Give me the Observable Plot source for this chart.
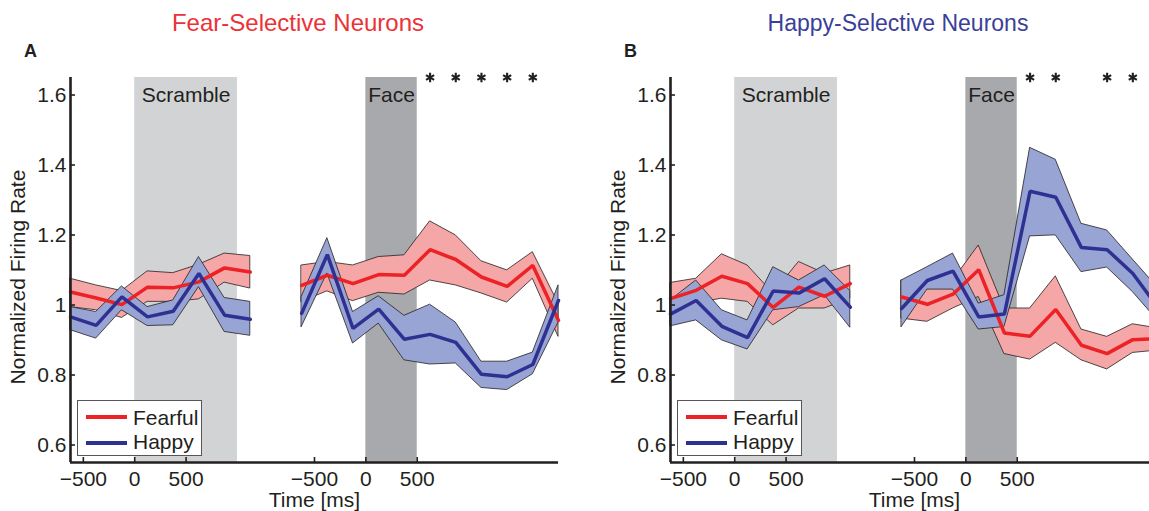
<!DOCTYPE html>
<html>
<head>
<meta charset="utf-8">
<script src="https://cdn.jsdelivr.net/npm/d3@7"></script>
<script src="https://cdn.jsdelivr.net/npm/@observablehq/plot@0.6"></script>
<style>
  html, body { margin: 0; padding: 0; background: #fff; overflow: hidden; }
  #fig { position: relative; width: 1149px; height: 511px; overflow: hidden;
         font-family: "Liberation Sans", Arial, Helvetica, sans-serif; color: #231f20; }
  .panel { position: absolute; top: 0; width: 600px; height: 511px; }
  .title { position: absolute; top: 11px; line-height: 24px; white-space: nowrap; transform: translateX(-50%); }
  .letter { position: absolute; top: 42px; font-size: 18px; line-height: 18px; font-weight: bold; }
  .legend { position: absolute; top: 400px; width: 123px; height: 54px; background: #fff; border: 1px solid #555; }
  .legend .sw { position: absolute; left: 8px; width: 41px; height: 3.5px; }
  .legend .lab { position: absolute; left: 55px; font-size: 21px; line-height: 21px; white-space: nowrap; }
</style>
</head>
<body>
<div id="fig"></div>
<script>
// Bin centres (ms) of the two recording epochs
const scrambleTimes = [-625, -375, -125, 125, 375, 625, 875, 1125];
const faceTimes = [-625, -375, -125, 125, 375, 625, 875, 1125, 1375, 1625, 1875];
// The face epoch is drawn to the right of the scramble epoch on a shared axis
const faceOffset = 2250;

// Stimulus periods (ms, relative to each epoch's onset)
const epochNames = ["Scramble", "Face"];
const epochStart = [0, 0];
const epochEnd = [1000, 500];
const epochShift = [0, faceOffset];
const epochFill = ["#d1d3d4", "#a7a9ac"];

// Axis ticks
const xTickValues = [-500, 0, 500];
const yTickValues = [0.6, 0.8, 1, 1.2, 1.4, 1.6];
const yDomain = [0.55, 1.65];

// --- A: fear-selective neurons ---
const aScrFearMean = [1.037, 1.020, 1.001, 1.051, 1.049, 1.066, 1.106, 1.094];
const aScrFearHi   = [1.075, 1.056, 1.040, 1.096, 1.091, 1.115, 1.147, 1.140];
const aScrFearLo   = [0.994, 0.985, 0.963, 1.009, 1.009, 1.016, 1.064, 1.047];
const aScrHapMean  = [0.966, 0.942, 1.023, 0.966, 0.982, 1.090, 0.971, 0.959];
const aScrHapHi    = [0.994, 0.980, 1.053, 0.994, 1.013, 1.137, 1.020, 1.009];
const aScrHapLo    = [0.928, 0.904, 0.985, 0.940, 0.942, 1.051, 0.923, 0.912];
const aFaceFearMean = [1.056, 1.085, 1.061, 1.087, 1.085, 1.158, 1.130, 1.080, 1.053, 1.113, 0.956];
const aFaceFearHi   = [1.113, 1.123, 1.113, 1.137, 1.142, 1.239, 1.199, 1.125, 1.099, 1.151, 1.004];
const aFaceFearLo   = [1.009, 1.039, 1.011, 1.035, 1.030, 1.070, 1.056, 1.033, 1.007, 1.075, 0.909];
const aFaceHapMean  = [0.976, 1.144, 0.933, 0.988, 0.902, 0.916, 0.893, 0.802, 0.795, 0.830, 1.013];
const aFaceHapHi    = [1.023, 1.191, 0.980, 1.025, 0.969, 1.001, 0.950, 0.838, 0.838, 0.864, 1.056];
const aFaceHapLo    = [0.937, 1.090, 0.890, 0.947, 0.842, 0.830, 0.833, 0.763, 0.757, 0.802, 0.950];
const aStars = [625, 875, 1125, 1375, 1625];

// --- B: happy-selective neurons ---
const bScrFearMean = [1.018, 1.042, 1.082, 1.061, 0.993, 1.051, 1.025, 1.061];
const bScrFearHi   = [1.063, 1.075, 1.145, 1.113, 1.033, 1.123, 1.090, 1.113];
const bScrFearLo   = [0.975, 1.005, 1.018, 1.009, 0.942, 0.990, 0.990, 1.018];
const bScrHapMean  = [0.974, 1.013, 0.939, 0.907, 1.040, 1.034, 1.075, 0.994];
const bScrHapHi    = [1.013, 1.070, 0.985, 0.956, 1.108, 1.070, 1.113, 1.040];
const bScrHapLo    = [0.939, 0.956, 0.899, 0.873, 0.985, 0.994, 1.028, 0.935];
const bFaceFearMean = [1.023, 1.002, 1.031, 1.101, 0.920, 0.911, 0.987, 0.885, 0.861, 0.901, 0.904];
const bFaceFearHi   = [1.070, 1.047, 1.070, 1.170, 0.990, 0.990, 1.082, 0.930, 0.909, 0.945, 0.933];
const bFaceFearLo   = [0.961, 0.952, 0.990, 1.023, 0.860, 0.844, 0.892, 0.842, 0.816, 0.863, 0.870];
const bFaceHapMean  = [0.990, 1.070, 1.097, 0.966, 0.974, 1.325, 1.308, 1.164, 1.158, 1.090, 0.991];
const bFaceHapHi    = [1.070, 1.108, 1.147, 1.004, 1.028, 1.449, 1.415, 1.232, 1.213, 1.130, 1.047];
const bFaceHapLo    = [0.937, 1.044, 1.044, 0.930, 0.937, 1.196, 1.199, 1.094, 1.107, 1.037, 0.953];
const bStars = [625, 875, 1375, 1625];

const ink = "#231f20";
const red = "#ec2227", redBand = "#f4a7a6";
const blue = "#2e3192", blueBand = "#98a5d4";
const font = '"Liberation Sans", Arial, Helvetica, sans-serif';

const fmt = v => (v < 0 ? "\u2212" + Math.abs(v) : String(v));

function rows(epoch, times, shift, mean, lo, hi) {
  return times.map((t, i) => ({epoch, x: t + shift, mean: mean[i], lo: lo[i], hi: hi[i]}));
}

function panel(p) {
  const fear = [
    ...rows("scramble", scrambleTimes, 0, p.scrFearMean, p.scrFearLo, p.scrFearHi),
    ...rows("face", faceTimes, faceOffset, p.faceFearMean, p.faceFearLo, p.faceFearHi)
  ];
  const happy = [
    ...rows("scramble", scrambleTimes, 0, p.scrHapMean, p.scrHapLo, p.scrHapHi),
    ...rows("face", faceTimes, faceOffset, p.faceHapMean, p.faceHapLo, p.faceHapHi)
  ];
  const epochs = epochNames.map((name, i) => ({
    name, x1: epochStart[i] + epochShift[i], x2: epochEnd[i] + epochShift[i]
  }));
  const xTicks = [...xTickValues, ...xTickValues.map(v => v + faceOffset)];
  const xLabel = new Map(xTicks.map((v, i) => [v, fmt(xTickValues[i % xTickValues.length])]));
  const xDomain = [scrambleTimes[0], faceTimes[faceTimes.length - 1] + faceOffset];

  return Plot.plot({
    width: 600, height: 511,
    marginLeft: 70, marginRight: 42, marginTop: 77, marginBottom: 49,
    x: {domain: xDomain},
    y: {domain: yDomain},
    style: {fontFamily: font, fontSize: "21px", color: ink, background: "transparent", overflow: "visible"},
    marks: [
      // stimulus periods
      Plot.rect(epochs.slice(0, 1), {x1: "x1", x2: "x2", fill: epochFill[0]}),
      Plot.rect(epochs.slice(1), {x1: "x1", x2: "x2", fill: epochFill[1]}),
      Plot.text(epochs, {x: d => (d.x1 + d.x2) / 2, text: "name", frameAnchor: "top", lineAnchor: "bottom", dy: 24, fill: ink}),
      // confidence bands
      Plot.areaY(fear, {x: "x", y1: "lo", y2: "hi", z: "epoch", fill: redBand, stroke: ink, strokeWidth: 0.8, curve: "linear"}),
      Plot.areaY(happy, {x: "x", y1: "lo", y2: "hi", z: "epoch", fill: blueBand, stroke: ink, strokeWidth: 0.8, curve: "linear"}),
      // mean firing rate
      Plot.lineY(fear, {x: "x", y: "mean", z: "epoch", stroke: red, strokeWidth: 3.5, strokeLinejoin: "miter"}),
      Plot.lineY(happy, {x: "x", y: "mean", z: "epoch", stroke: blue, strokeWidth: 3.5, strokeLinejoin: "miter"}),
      // significant bins
      Plot.dot(p.stars, {x: t => t + faceOffset, frameAnchor: "top", symbol: "asterisk", r: 4.4, stroke: ink, strokeWidth: 2.1}),
      // axes: inward ticks, labels, spines
      Plot.tickX(xTicks, {x: d => d, insetTop: 380, stroke: ink, strokeWidth: 1.6}),
      Plot.tickY(yTickValues, {y: d => d, insetRight: 483, stroke: ink, strokeWidth: 1.6}),
      Plot.axisX(xTicks, {tickSize: 0, tickPadding: 9, tickFormat: d => xLabel.get(d), label: null, fill: ink}),
      Plot.axisY(yTickValues, {tickSize: 0, tickPadding: 4, tickFormat: d => String(d), label: null, fill: ink}),
      Plot.ruleX([xDomain[0]], {stroke: ink, strokeWidth: 2.6}),
      Plot.ruleY([yDomain[0]], {stroke: ink, strokeWidth: 2.6}),
      Plot.text(["Normalized Firing Rate"], {frameAnchor: "left", textAnchor: "middle", lineAnchor: "middle", rotate: -90, dx: -52, dy: 7, fill: ink}),
      Plot.text(["Time [ms]"], {frameAnchor: "bottom", textAnchor: "middle", lineAnchor: "bottom", dy: 44, fill: ink})
    ]
  });
}

const panels = [
  {left: 0, letter: "A", title: "Fear-Selective Neurons", titleColor: "#ec3238", titleSize: 24, titleX: 298,
   scrFearMean: aScrFearMean, scrFearLo: aScrFearLo, scrFearHi: aScrFearHi,
   scrHapMean: aScrHapMean, scrHapLo: aScrHapLo, scrHapHi: aScrHapHi,
   faceFearMean: aFaceFearMean, faceFearLo: aFaceFearLo, faceFearHi: aFaceFearHi,
   faceHapMean: aFaceHapMean, faceHapLo: aFaceHapLo, faceHapHi: aFaceHapHi, stars: aStars},
  {left: 600, letter: "B", title: "Happy-Selective Neurons", titleColor: "#3b3f98", titleSize: 23, titleX: 298,
   scrFearMean: bScrFearMean, scrFearLo: bScrFearLo, scrFearHi: bScrFearHi,
   scrHapMean: bScrHapMean, scrHapLo: bScrHapLo, scrHapHi: bScrHapHi,
   faceFearMean: bFaceFearMean, faceFearLo: bFaceFearLo, faceFearHi: bFaceFearHi,
   faceHapMean: bFaceHapMean, faceHapLo: bFaceHapLo, faceHapHi: bFaceHapHi, stars: bStars}
];

const fig = document.getElementById("fig");
for (const p of panels) {
  const wrap = document.createElement("div");
  wrap.className = "panel";
  wrap.style.left = p.left + "px";
  wrap.appendChild(panel(p));

  const title = document.createElement("div");
  title.className = "title";
  title.style.left = p.titleX + "px";
  title.style.fontSize = p.titleSize + "px";
  title.style.color = p.titleColor;
  title.textContent = p.title;
  wrap.appendChild(title);

  const letter = document.createElement("div");
  letter.className = "letter";
  letter.style.left = "24px";
  letter.textContent = p.letter;
  wrap.appendChild(letter);

  const legend = document.createElement("div");
  legend.className = "legend";
  legend.style.left = "77px";
  [["Fearful", red], ["Happy", blue]].forEach(([name, color], i) => {
    const sw = document.createElement("div");
    sw.className = "sw";
    sw.style.top = (14 + 26 * i) + "px";
    sw.style.background = color;
    legend.appendChild(sw);
    const lab = document.createElement("div");
    lab.className = "lab";
    lab.style.top = (6 + 24 * i) + "px";
    lab.textContent = name;
    legend.appendChild(lab);
  });
  wrap.appendChild(legend);
  fig.appendChild(wrap);
}
</script>
</body>
</html>
